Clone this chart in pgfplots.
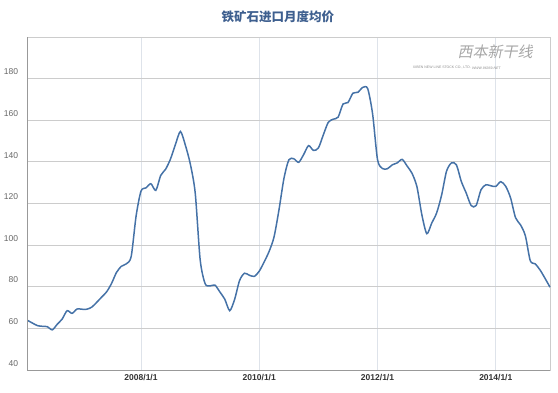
\documentclass[border=0pt]{standalone}
\usepackage{pgfplots}
\pgfplotsset{compat=1.18}
\usepackage{fontspec}
\setmainfont{Liberation Sans}
\newfontfamily\cjk{Noto Sans CJK SC}
\newfontfamily\cjkit{Noto Sans CJK SC}[FakeSlant=0.2]
\definecolor{linec}{HTML}{4572A7}
\definecolor{titlec}{HTML}{3E5F8F}
\definecolor{gridc}{HTML}{CCCCCC}
\definecolor{vgridc}{HTML}{DEE3EA}
\definecolor{labc}{HTML}{666666}
\definecolor{axc}{HTML}{999999}
\begin{document}
\begin{tikzpicture}
\begin{axis}[
  scale only axis, width=522.3pt, height=333pt,
  xmin=1, xmax=107, ymin=40, ymax=200,
  xtick={24,48,72,96},
  xticklabels={2008/1/1,2010/1/1,2012/1/1,2014/1/1},
  ytick={40,60,80,100,120,140,160,180},
  /pgf/number format/assume math mode=true,
  xmajorgrids, ymajorgrids,
  x grid style={vgridc, line width=0.8pt},
  y grid style={gridc, line width=0.8pt},
  axis line style={gridc, line width=0.8pt},
  major tick length=0pt,
  y tick label style={font=\fontsize{8.5}{10}\selectfont, text=labc, yshift=6.8pt, xshift=-6pt},
  x tick label style={font=\bfseries\fontsize{8.5}{10}\selectfont, text=black!80, yshift=-1pt},
  clip=false,
]
\addplot[linec, line width=1.5pt, smooth, tension=0.45] table {
x y
1 63.8
2 62.5
3 61.3
4 61.0
5 60.8
6 59.3
7 62.0
8 64.5
9 68.5
10 67.2
11 69.3
12 69.2
13 69.2
14 70.2
15 72.5
16 75.0
17 77.5
18 81.5
19 86.8
20 89.8
21 91.0
22 94.5
23 114.0
24 126.0
25 127.5
26 129.5
27 126.3
28 133.5
29 136.5
30 141.5
31 148.5
32 154.6
33 148.0
34 139.0
35 125.0
36 93.0
37 81.5
38 80.4
39 80.8
40 77.5
41 74.0
42 68.5
43 74.0
44 83.0
45 86.5
46 85.5
47 85.0
48 87.5
49 92.0
50 97.0
51 104.0
52 117.0
53 132.0
54 141.0
55 141.5
56 139.8
57 143.5
58 147.8
59 145.5
60 146.7
61 153.0
62 159.0
63 160.5
64 161.5
65 167.8
66 168.5
67 173.0
68 173.4
69 175.8
70 175.2
71 163.0
72 141.0
73 136.8
74 136.7
75 138.6
76 139.5
77 141.2
78 138.0
79 134.5
80 128.0
81 114.5
82 105.5
83 110.6
84 115.5
85 124.0
86 135.5
87 139.5
88 138.6
89 130.6
90 125.0
91 119.0
92 119.0
93 126.6
94 129.0
95 128.5
96 128.2
97 130.5
98 128.3
99 122.7
100 113.2
101 109.8
102 104.5
103 92.5
104 91.0
105 88.0
106 84.0
107 79.8
};
\draw[axc, line width=0.9pt] (rel axis cs:0,1) -- (rel axis cs:0,0) -- (rel axis cs:1,0);
\node[font=\cjk\bfseries\fontsize{12.5}{14}\selectfont, text=titlec] at (rel axis cs:0.479,1.06) {铁矿石进口月度均价};
\node[font=\cjkit\fontsize{15}{16}\selectfont, text=black!35] at (rel axis cs:0.895,0.956) {西本新干线};
\node[font=\fontsize{3.5}{4}\selectfont, text=black!45] at (rel axis cs:0.793,0.907) {XIBEN NEW LINE STOCK CO., LTD.};
\node[font=\itshape\fontsize{3.5}{4}\selectfont, text=black!45] at (rel axis cs:0.878,0.907) {WWW.96369.NET};
\end{axis}
\pgfresetboundingbox
\path[use as bounding box] (-27.7pt,-22pt) rectangle (530.3pt,370pt);
\end{tikzpicture}
\end{document}
